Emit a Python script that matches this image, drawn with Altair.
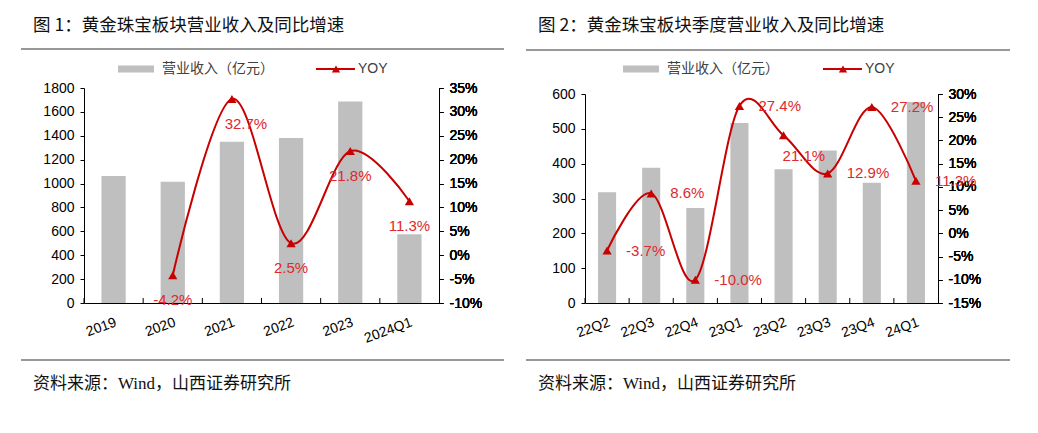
import altair as alt
import pandas as pd

# ---------------- data ----------------
years = ["2019", "2020", "2021", "2022", "2023", "2024Q1"]
rev_year = [1063, 1016, 1351, 1381, 1686, 575]
yoy_year = [None, -4.2, 32.7, 2.5, 21.8, 11.3]

quarters = ["22Q2", "22Q3", "22Q4", "23Q1", "23Q2", "23Q3", "23Q4", "24Q1"]
rev_q = [318, 388, 273, 517, 384, 438, 345, 577]
yoy_q = [-3.7, 8.6, -10.0, 27.4, 21.1, 12.9, 27.2, 11.3]

title1 = "图 1：黄金珠宝板块营业收入及同比增速"
title2 = "图 2：黄金珠宝板块季度营业收入及同比增速"
source_txt = "资料来源：Wind，山西证券研究所"
legend_bar = "营业收入（亿元）"
legend_line = "YOY"

BAR = "#BFBFBF"
LINE = "#C80000"
LABEL = "#E0282E"
SANS = "Liberation Sans, Noto Sans CJK SC"
CJK = "Noto Sans CJK SC"
SERIF = "Liberation Serif, Noto Sans CJK SC"

H = 215  # common view height


def one(text):
    return alt.Chart(pd.DataFrame({"t": [text]}))


def panel(cats, rev, yoy, W, top, rev_max, rev_step, yoy_min, yoy_max,
          lay, main_lbl, shifted_lbl, shifted_cats, title):
    df = pd.DataFrame({"cat": cats, "rev": rev, "yoy": yoy})
    base = alt.Chart(df)
    step = W / len(cats)
    xscale = alt.Scale(paddingInner=0, paddingOuter=0)

    x_bottom = alt.X("cat:N", sort=cats, scale=xscale,
                     axis=alt.Axis(title=None, labelAngle=-20, labelAlign="right",
                                   labelBaseline="top", labelPadding=12, ticks=False,
                                   grid=False, domainColor="#000"))
    x_plain = alt.X("cat:N", sort=cats)

    y_left = alt.Y("rev:Q", scale=alt.Scale(domain=[0, rev_max], nice=False, range=[H, top]),
                   axis=alt.Axis(title=None, orient="left", format="d",
                                 values=list(range(0, rev_max + 1, rev_step)),
                                 grid=False, tickSize=4, labelPadding=6))
    y_right = alt.Y("yoy:Q", scale=alt.Scale(domain=[yoy_min, yoy_max], nice=False, zero=False,
                                             range=[H, top]),
                    axis=alt.Axis(title=None, orient="right",
                                  values=list(range(yoy_min, yoy_max + 1, 5)),
                                  labelExpr="datum.value + '%'",
                                  grid=False, tickSize=4, labelPadding=6))

    bars = base.mark_bar(color=BAR, width=alt.RelativeBandSize(0.41)).encode(
        x=x_bottom, y=y_left)

    # inward x ticks at category boundaries
    xticks = base.mark_rule(color="#000", strokeWidth=1, xOffset=-step / 2).encode(
        x=x_plain, y=alt.value(H - 5), y2=alt.value(H))

    valid = base.transform_filter("isValid(datum.yoy)")
    line = valid.mark_line(color=LINE, strokeWidth=2, interpolate="cardinal").encode(
        x=x_plain, y=y_right)
    pts = valid.mark_point(shape="triangle-up", filled=True, size=85, color=LINE,
                           opacity=1).encode(x=x_plain, y=y_right)

    lbl = valid.transform_calculate(
        lab="replace(format(datum.yoy, '.1f'), '\u2212', '-') + '%'")
    lbl_main = lbl.transform_filter(
        alt.FieldOneOfPredicate(field="cat", oneOf=[c for c in cats if c not in shifted_cats])
    ).mark_text(color=LABEL, fontSize=15, font=SANS, baseline="middle", **main_lbl).encode(
        x=x_plain, y=y_right, text="lab:N")
    lbl_shift = lbl.transform_filter(
        alt.FieldOneOfPredicate(field="cat", oneOf=shifted_cats)
    ).mark_text(color=LABEL, fontSize=15, font=SANS, baseline="middle", **shifted_lbl).encode(
        x=x_plain, y=y_right, text="lab:N")

    # decorations: title, rules, legend, source
    ttl = one(title).mark_text(align="left", baseline="middle", fontSize=17.5, font=CJK,
                               color="#111").encode(
        text="t:N", x=alt.value(lay["tx"]), y=alt.value(lay["ty"]))
    rule_top = one("top").mark_rule(color="#333", strokeWidth=1.2).encode(
        x=alt.value(lay["rx0"]), x2=alt.value(lay["rx1"]),
        y=alt.value(lay["ry0"]), y2=alt.value(lay["ry0"]))
    rule_bot = one("bottom").mark_rule(color="#333", strokeWidth=1.2).encode(
        x=alt.value(lay["rx0"]), x2=alt.value(lay["rx1"]),
        y=alt.value(lay["ry1"]), y2=alt.value(lay["ry1"]))
    src = one(source_txt).mark_text(align="left", baseline="middle", fontSize=17,
                                    font=SERIF, color="#111").encode(
        text="t:N", x=alt.value(lay["tx"]), y=alt.value(lay["sy"]))

    ly = lay["ly"]
    leg_rect = one("b").mark_rect(color=BAR).encode(
        x=alt.value(lay["lb0"]), x2=alt.value(lay["lb0"] + 36),
        y=alt.value(ly - 3.5), y2=alt.value(ly + 3.5))
    leg_t1 = one(legend_bar).mark_text(align="left", baseline="middle", fontSize=14,
                                       font=SANS, color="#404040").encode(
        text="t:N", x=alt.value(lay["lb0"] + 44), y=alt.value(ly))
    leg_line = one("l").mark_rule(color=LINE, strokeWidth=2).encode(
        x=alt.value(lay["ll0"]), x2=alt.value(lay["ll0"] + 39), y=alt.value(ly))
    leg_pt = one("p").mark_point(shape="triangle-up", filled=True, size=70, color=LINE,
                                 opacity=1).encode(
        x=alt.value(lay["ll0"] + 20), y=alt.value(ly))
    leg_t2 = one(legend_line).mark_text(align="left", baseline="middle", fontSize=14,
                                        font=SANS, color="#404040").encode(
        text="t:N", x=alt.value(lay["ll0"] + 42), y=alt.value(ly))

    return alt.layer(
        bars, xticks, line, pts, lbl_main, lbl_shift,
        ttl, rule_top, rule_bot, src, leg_rect, leg_t1, leg_line, leg_pt, leg_t2
    ).resolve_scale(y="independent").properties(width=W, height=H)


left = panel(
    years, rev_year, yoy_year, 355, 0, 1800, 200, -10, 35,
    lay=dict(tx=-51, ty=-62, rx0=-63, rx1=420, ry0=-39, ry1=272, sy=296,
             ly=-19, lb0=34, ll0=232),
    main_lbl=dict(align="center", dy=25),
    shifted_lbl=dict(align="center", dx=14, dy=25),
    shifted_cats=["2021"],
    title=title1,
)

right = panel(
    quarters, rev_q, yoy_q, 353, 6, 600, 100, -15, 30,
    lay=dict(tx=-47, ty=-62, rx0=-59, rx1=425, ry0=-38, ry1=272, sy=296,
             ly=-19, lb0=38, ll0=238),
    main_lbl=dict(align="left", dx=19, dy=0),
    shifted_lbl=dict(align="left", dx=-1, dy=21),
    shifted_cats=["23Q2"],
    title=title2,
)

chart = alt.hconcat(left, right, spacing=20).properties(
    padding={"left": 12, "top": 9, "right": 5, "bottom": 5}
).configure_view(stroke=None).configure_axis(
    labelFont="Liberation Sans", labelFontSize=14, labelColor="#000",
    domainColor="#000", tickColor="#000", domainWidth=1
)

chart.save("out.html", embed_options={"renderer": "svg", "actions": False})
